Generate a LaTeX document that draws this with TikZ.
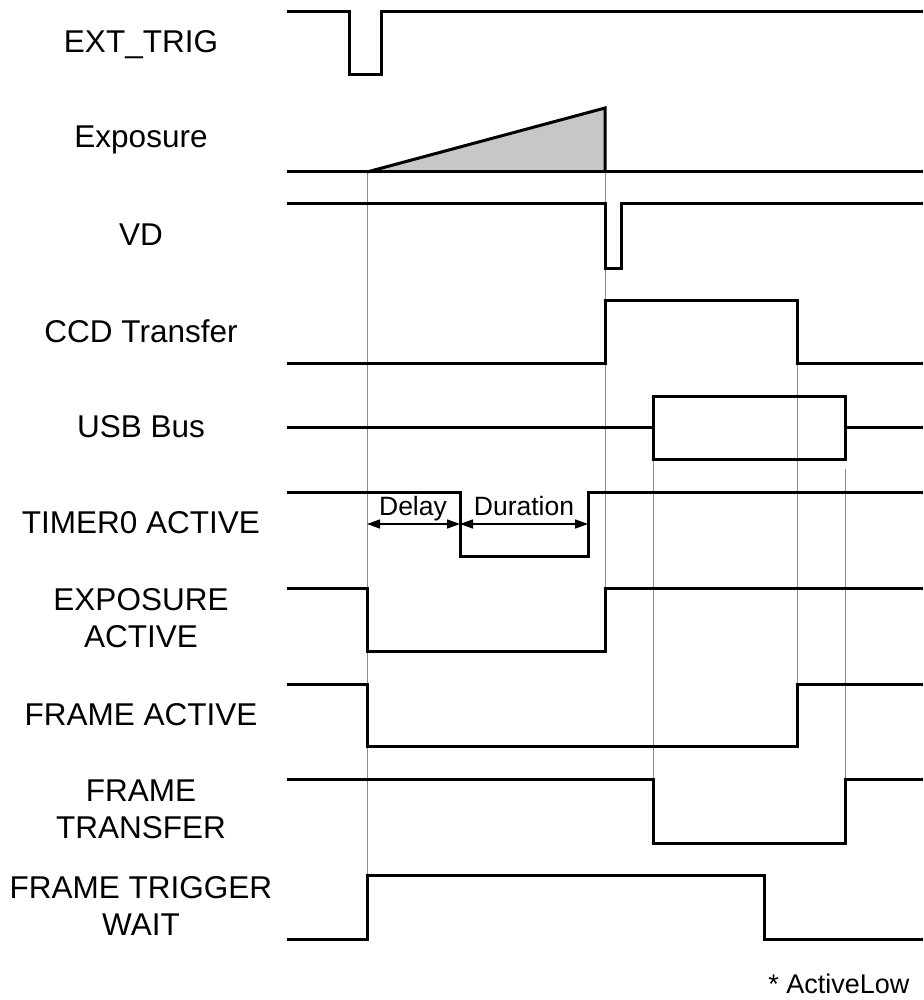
\documentclass[tikz,border=0pt]{standalone}
\usepackage{fontspec}
\setmainfont{Liberation Sans}
\usetikzlibrary{arrows.meta}

\begin{document}
\begin{tikzpicture}[x=1pt, y=-1pt,
    sig/.style={line width=3pt, line join=miter},
    guide/.style={black!45, line width=1pt},
    lbl/.style={anchor=base, align=center, font=\fontsize{31.5}{37}\selectfont},
    small/.style={anchor=base, font=\fontsize{26.5}{30}\selectfont},
    dim/.style={{Triangle[length=13pt,width=9pt]}-{Triangle[length=13pt,width=9pt]}, line width=1.5pt}
  ]
    \useasboundingbox (0,0) rectangle (923,1000);

    % signal names
    \node[lbl] (ltrig) at (141,53) {EXT\_TRIG};
    \node[lbl] (lexp) at (141,148) {Exposure};
    \node[lbl] (lvd) at (141,245) {VD};
    \node[lbl] (lccd) at (141,342) {CCD Transfer};
    \node[lbl] (lusb) at (141,437) {USB Bus};
    \node[lbl] (ltimer) at (141,533) {TIMER0 ACTIVE};
    \node[lbl] (lexpact) at (141,647) {EXPOSURE\\ACTIVE};
    \node[lbl] (lframe) at (141,725) {FRAME ACTIVE};
    \node[lbl] (lxfer) at (141,838) {FRAME\\TRANSFER};
    \node[lbl] (lwait) at (141,935) {FRAME TRIGGER\\WAIT};
    \node[small, anchor=base east, font=\fontsize{27}{30}\selectfont] (note) at (913,993) {* ActiveLow};

    % guide lines
    \draw[guide] (367,172) -- (367,875);
    \draw[guide] (605,172) -- (605,588);
    \draw[guide] (797,363) -- (797,684);
    \draw[guide] (653,459) -- (653,779);
    \draw[guide] (845,469) -- (845,779);

    % waveforms
    \draw[sig] (287,12) -- (349,12) -- (349,75) -- (381,75) -- (381,12) -- (923,12);

    \fill[black!22] (367,172) -- (605,108) -- (605,172) -- cycle;
    \draw[sig] (287,172) -- (923,172);
    \draw[sig] (367,172) -- (605,108) -- (605,172);

    \draw[sig] (287,204) -- (605,204) -- (605,268) -- (621,268) -- (621,204) -- (923,204);

    \draw[sig] (287,363) -- (605,363) -- (605,300) -- (797,300) -- (797,363) -- (923,363);

    \draw[sig] (287,427) -- (653,427);
    \draw[sig] (653,396) rectangle (845,459);
    \draw[sig] (845,427) -- (923,427);

    \draw[sig] (287,492) -- (460,492) -- (460,556) -- (588,556) -- (588,492) -- (923,492);

    \draw[sig] (287,588) -- (367,588) -- (367,651) -- (605,651) -- (605,588) -- (923,588);

    \draw[sig] (287,684) -- (367,684) -- (367,746) -- (797,746) -- (797,684) -- (923,684);

    \draw[sig] (287,779) -- (653,779) -- (653,843) -- (845,843) -- (845,779) -- (923,779);

    \draw[sig] (287,939) -- (367,939) -- (367,875) -- (764,875) -- (764,939) -- (923,939);

    % delay / duration
    \coordinate (dstart) at (367,524);
    \coordinate (dmid) at (460,524);
    \coordinate (dend) at (588,524);
    \draw[dim] (dstart) -- (dmid);
    \draw[dim] (dmid) -- (dend);
    \node[small] (ldelay) at (413,515) {Delay};
    \node[small] (ldur) at (524,515) {Duration};
\end{tikzpicture}
\end{document}
